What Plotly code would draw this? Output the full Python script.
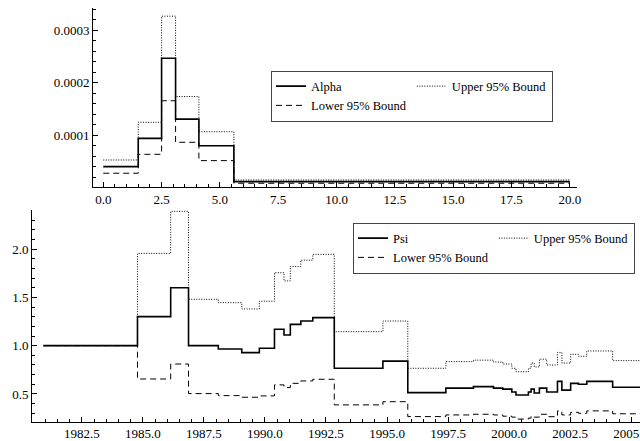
import plotly.graph_objects as go

# ---- Top panel data (step function over age bins) ----
age_edges = [0.0, 1.5, 2.5, 3.1, 4.1, 5.6, 20.0]
alpha_vals = [0.0000405, 0.0000944, 0.000247, 0.000131, 0.0000804, 0.000012]
alpha_upper = [0.0000532, 0.000125, 0.000327, 0.000174, 0.000107, 0.0000152]
alpha_lower = [0.000028, 0.000064, 0.000166, 0.0000869, 0.000052, 0.0000089]

# ---- Bottom panel data (step function over years) ----
years = [1980.93, 1984.78, 1986.14, 1986.87, 1988.09, 1989.05, 1989.77, 1990.39,
         1990.78, 1991.04, 1991.47, 1991.96, 1992.84, 1994.83, 1995.85, 1997.41,
         1998.54, 1999.36, 1999.74, 2000.11, 2000.28, 2000.79, 2000.90, 2001.03,
         2001.24, 2001.54, 2001.98, 2002.16, 2002.52, 2002.84, 2003.18, 2004.24,
         2005.36]
psi_vals = [1.0, 1.30, 1.60, 1.0, 0.966, 0.928, 0.973, 1.17, 1.11, 1.22, 1.255, 1.29,
            0.766, 0.84, 0.514, 0.56, 0.576, 0.56, 0.55, 0.52, 0.49, 0.52, 0.55, 0.51,
            0.56, 0.52, 0.63, 0.54, 0.61, 0.60, 0.63, 0.57]
psi_upper = [1.0, 1.955, 2.39, 1.48, 1.445, 1.38, 1.46, 1.755, 1.67, 1.82, 1.885, 1.945,
             1.145, 1.255, 0.766, 0.835, 0.85, 0.83, 0.81, 0.766, 0.73, 0.766, 0.82, 0.78,
             0.86, 0.80, 0.93, 0.82, 0.91, 0.89, 0.945, 0.845]
psi_lower = [1.0, 0.655, 0.81, 0.504, 0.483, 0.466, 0.48, 0.594, 0.566, 0.61, 0.635, 0.652,
             0.387, 0.42, 0.266, 0.283, 0.29, 0.283, 0.27, 0.26, 0.24, 0.25, 0.27, 0.26,
             0.29, 0.265, 0.325, 0.283, 0.31, 0.30, 0.325, 0.295]

FONT = "Liberation Serif, 'Times New Roman', Times, serif"
DASH = "6px,4px"
DOT = "1px,1.5px"


def step(vals):
    return list(vals) + [vals[-1]]


fig = go.Figure()

# Top panel
fig.add_trace(go.Scatter(x=age_edges, y=step(alpha_vals), mode="lines", line_shape="hv",
                         name="Alpha", line=dict(color="black", width=1.6),
                         xaxis="x", yaxis="y", legend="legend", legendgroup="t1"))
fig.add_trace(go.Scatter(x=age_edges, y=step(alpha_lower), mode="lines", line_shape="hv",
                         name="Lower 95% Bound", line=dict(color="black", width=1, dash=DASH),
                         xaxis="x", yaxis="y", legend="legend", legendgroup="t1"))
fig.add_trace(go.Scatter(x=age_edges, y=step(alpha_upper), mode="lines", line_shape="hv",
                         name="Upper 95% Bound", line=dict(color="black", width=1, dash=DOT),
                         xaxis="x", yaxis="y", legend="legend", legendgroup="t2"))

# Bottom panel
fig.add_trace(go.Scatter(x=years, y=step(psi_vals), mode="lines", line_shape="hv",
                         name="Psi", line=dict(color="black", width=1.6),
                         xaxis="x2", yaxis="y2", legend="legend2", legendgroup="b1"))
fig.add_trace(go.Scatter(x=years, y=step(psi_lower), mode="lines", line_shape="hv",
                         name="Lower 95% Bound", line=dict(color="black", width=1, dash=DASH),
                         xaxis="x2", yaxis="y2", legend="legend2", legendgroup="b1"))
fig.add_trace(go.Scatter(x=years, y=step(psi_upper), mode="lines", line_shape="hv",
                         name="Upper 95% Bound", line=dict(color="black", width=1, dash=DOT),
                         xaxis="x2", yaxis="y2", legend="legend2", legendgroup="b2"))

axis_common = dict(showline=True, linecolor="black", linewidth=1, showgrid=False,
                   zeroline=False, ticks="inside", ticklen=5, tickwidth=1, tickcolor="black",
                   tickfont=dict(family=FONT, size=13, color="black"), mirror=False,
                   ticklabeloverflow="allow")

legend_common = dict(orientation="h", traceorder="grouped", tracegroupgap=0,
                     bgcolor="white", bordercolor="#444444", borderwidth=1,
                     font=dict(family=FONT, size=12.5, color="black"),
                     xanchor="center", yanchor="middle", itemwidth=30)

fig.update_layout(
    width=640, height=441,
    margin=dict(l=0, r=0, t=0, b=0, autoexpand=False),
    paper_bgcolor="white", plot_bgcolor="white",
    font=dict(family=FONT, color="black"),
    xaxis=dict(domain=[93 / 640, 577 / 640], anchor="y", range=[-0.44, 20.31],
               tick0=0, dtick=2.5, tickformat=".1f",
               minor=dict(dtick=0.5, tick0=0, ticks="inside", ticklen=3, tickcolor="black"),
               **axis_common),
    yaxis=dict(domain=[1 - 187.3 / 441, 1 - 8.3 / 441], anchor="x", range=[0.0000012, 0.000342],
               tick0=0, dtick=0.0001, tickformat=".4f",
               minor=dict(dtick=0.00002, tick0=0, ticks="inside", ticklen=3, tickcolor="black"),
               **axis_common),
    xaxis2=dict(domain=[32 / 640, 1.0], anchor="y2", range=[1980.46, 2005.36],
                tick0=1982.5, dtick=2.5, tickformat=".1f",
                minor=dict(dtick=0.5, tick0=1982.5, ticks="inside", ticklen=3, tickcolor="black"),
                **axis_common),
    yaxis2=dict(domain=[1 - 421.7 / 441, 1 - 210 / 441], anchor="x2", range=[0.213, 2.404],
                tick0=0, dtick=0.5, tickformat=".1f",
                minor=dict(dtick=0.1, tick0=0, ticks="inside", ticklen=3, tickcolor="black"),
                **axis_common),
    legend=dict(x=412 / 640, y=1 - 96 / 441, **legend_common),
    legend2=dict(x=494 / 640, y=1 - 248 / 441, **legend_common),
    showlegend=True,
)

fig.write_html("out.html")
